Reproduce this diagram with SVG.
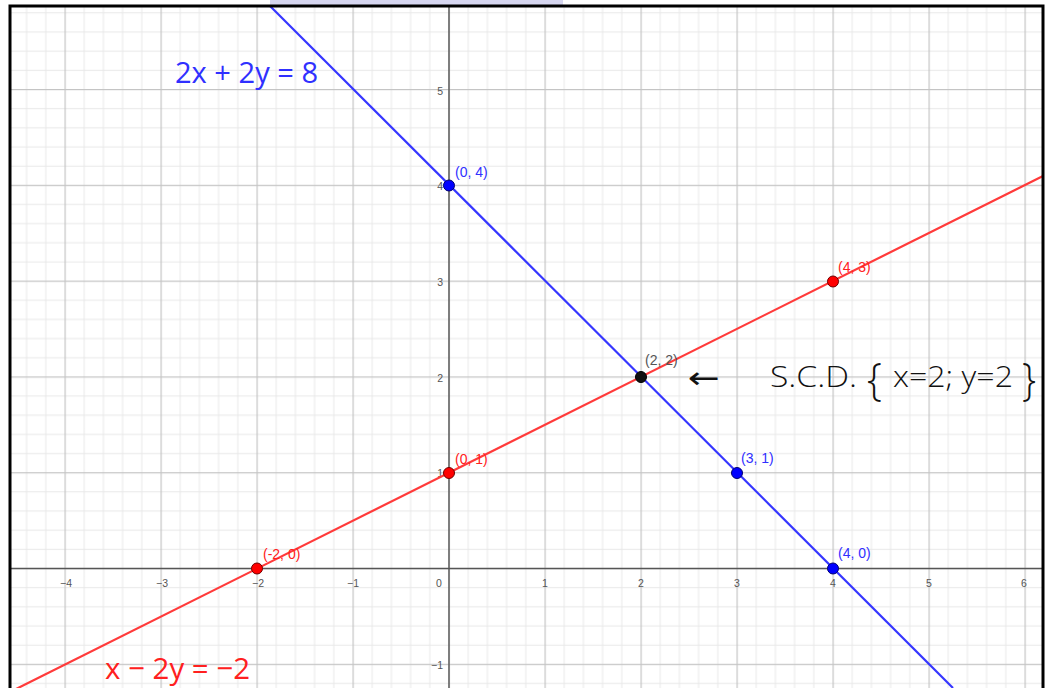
<svg xmlns="http://www.w3.org/2000/svg" width="1052" height="688" viewBox="0 0 1052 688">
<style>
.tick{font-family:"Liberation Sans",Arial,sans-serif;font-size:10.5px;fill:#555}
.pl{font-family:"Liberation Sans",Arial,sans-serif;font-size:14px}
.big{font-family:"Open Sans","Liberation Sans",sans-serif;font-size:30px}
.scd{font-family:"Open Sans","Liberation Sans",sans-serif;font-weight:300;fill:#111}
.blue{fill:#3030ff}
.red{fill:#ff2020}
.grey{fill:#555}
.ln{fill:none;stroke-width:2.2}
</style>
<defs>
<pattern id="grid" patternUnits="userSpaceOnUse" x="448.5" y="568" width="96" height="95.8">
<g fill="#e8e8e8">
<rect x="19.2" y="0" width="1" height="95.8"/>
<rect x="38.4" y="0" width="1" height="95.8"/>
<rect x="57.6" y="0" width="1" height="95.8"/>
<rect x="76.8" y="0" width="1" height="95.8"/>
<rect x="0" y="19.16" width="96" height="1"/>
<rect x="0" y="38.32" width="96" height="1"/>
<rect x="0" y="57.48" width="96" height="1"/>
<rect x="0" y="76.64" width="96" height="1"/>
</g>
<g fill="#c4c4c4">
<rect x="0" y="0" width="1.2" height="95.8"/>
<rect x="0" y="0" width="96" height="1.2"/>
</g>
</pattern>
</defs>
<rect width="1052" height="688" fill="#fff"/>
<rect x="270" y="0" width="293" height="6" fill="#d6d6f0"/>
<g id="plot">
<rect x="10" y="6" width="1033" height="690" fill="url(#grid)"/>
<line x1="10" y1="568.5" x2="1043" y2="568.5" stroke="#555" stroke-width="1.4"/>
<line x1="449" y1="6" x2="449" y2="688" stroke="#555" stroke-width="1.4"/>
</g>
<g id="ticks">
<text class="tick" x="66" y="587" text-anchor="middle">−4</text>
<text class="tick" x="162" y="587" text-anchor="middle">−3</text>
<text class="tick" x="258" y="587" text-anchor="middle">−2</text>
<text class="tick" x="353" y="587" text-anchor="middle">−1</text>
<text class="tick" x="439" y="587" text-anchor="middle">0</text>
<text class="tick" x="545" y="587" text-anchor="middle">1</text>
<text class="tick" x="641" y="587" text-anchor="middle">2</text>
<text class="tick" x="737" y="587" text-anchor="middle">3</text>
<text class="tick" x="833" y="587" text-anchor="middle">4</text>
<text class="tick" x="929" y="587" text-anchor="middle">5</text>
<text class="tick" x="1024" y="587" text-anchor="middle">6</text>
<text class="tick" x="443" y="95" text-anchor="end">5</text>
<text class="tick" x="443" y="190" text-anchor="end">4</text>
<text class="tick" x="443" y="286" text-anchor="end">3</text>
<text class="tick" x="443" y="382" text-anchor="end">2</text>
<text class="tick" x="443" y="477" text-anchor="end">1</text>
<text class="tick" x="443" y="669" text-anchor="end">−1</text>
</g>
<g id="connectors">
<line class="ln" x1="270" y1="6" x2="953" y2="688" stroke="#3636ff"/>
<line class="ln" x1="10" y1="692" x2="1043" y2="176" stroke="#ff3a3a"/>
</g>
<g id="point-0-4"><circle cx="449" cy="185.5" r="5.5" fill="#0000ff" stroke="#000070" stroke-width="1"/><text class="pl blue" x="455" y="177">(0, 4)</text></g>
<g id="point-3-1"><circle cx="737" cy="473" r="5.5" fill="#0000ff" stroke="#000070" stroke-width="1"/><text class="pl blue" x="741" y="463">(3, 1)</text></g>
<g id="point-4-0"><circle cx="833" cy="568.5" r="5.5" fill="#0000ff" stroke="#000070" stroke-width="1"/><text class="pl blue" x="838" y="558">(4, 0)</text></g>
<g id="point-m2-0"><circle cx="257" cy="568.5" r="5.5" fill="#ff0000" stroke="#700000" stroke-width="1"/><text class="pl red" x="263" y="559">(-2, 0)</text></g>
<g id="point-0-1"><circle cx="449" cy="473" r="5.5" fill="#ff0000" stroke="#700000" stroke-width="1"/><text class="pl red" x="455" y="464">(0, 1)</text></g>
<g id="point-4-3"><circle cx="833" cy="281.5" r="5.5" fill="#ff0000" stroke="#700000" stroke-width="1"/><text class="pl red" x="838" y="272">(4, 3)</text></g>
<g id="point-2-2"><circle cx="641" cy="377" r="5.5" fill="#111" stroke="#000" stroke-width="1"/><text class="pl grey" x="645" y="365">(2, 2)</text></g>
<g id="labels">
<text class="big blue" x="175" y="83" textLength="143" lengthAdjust="spacingAndGlyphs">2x + 2y = 8</text>
<text class="big red" x="105" y="679" textLength="145" lengthAdjust="spacingAndGlyphs">x − 2y = −2</text>
<text class="big" x="688" y="388" fill="#111" style="font-family:'DejaVu Sans',sans-serif" textLength="32" lengthAdjust="spacingAndGlyphs">←</text>
<text class="scd" x="770" y="387" font-size="30" textLength="87" lengthAdjust="spacingAndGlyphs">S.C.D.</text>
<text class="scd" x="867" y="395" font-size="44" textLength="15" lengthAdjust="spacingAndGlyphs">{</text>
<text class="scd" x="893" y="387" font-size="30" textLength="120" lengthAdjust="spacingAndGlyphs">x=2; y=2</text>
<text class="scd" x="1022" y="395" font-size="44" textLength="14" lengthAdjust="spacingAndGlyphs">}</text>
</g>
<rect x="10" y="6" width="1033" height="700" fill="none" stroke="#000" stroke-width="3"/>
</svg>
